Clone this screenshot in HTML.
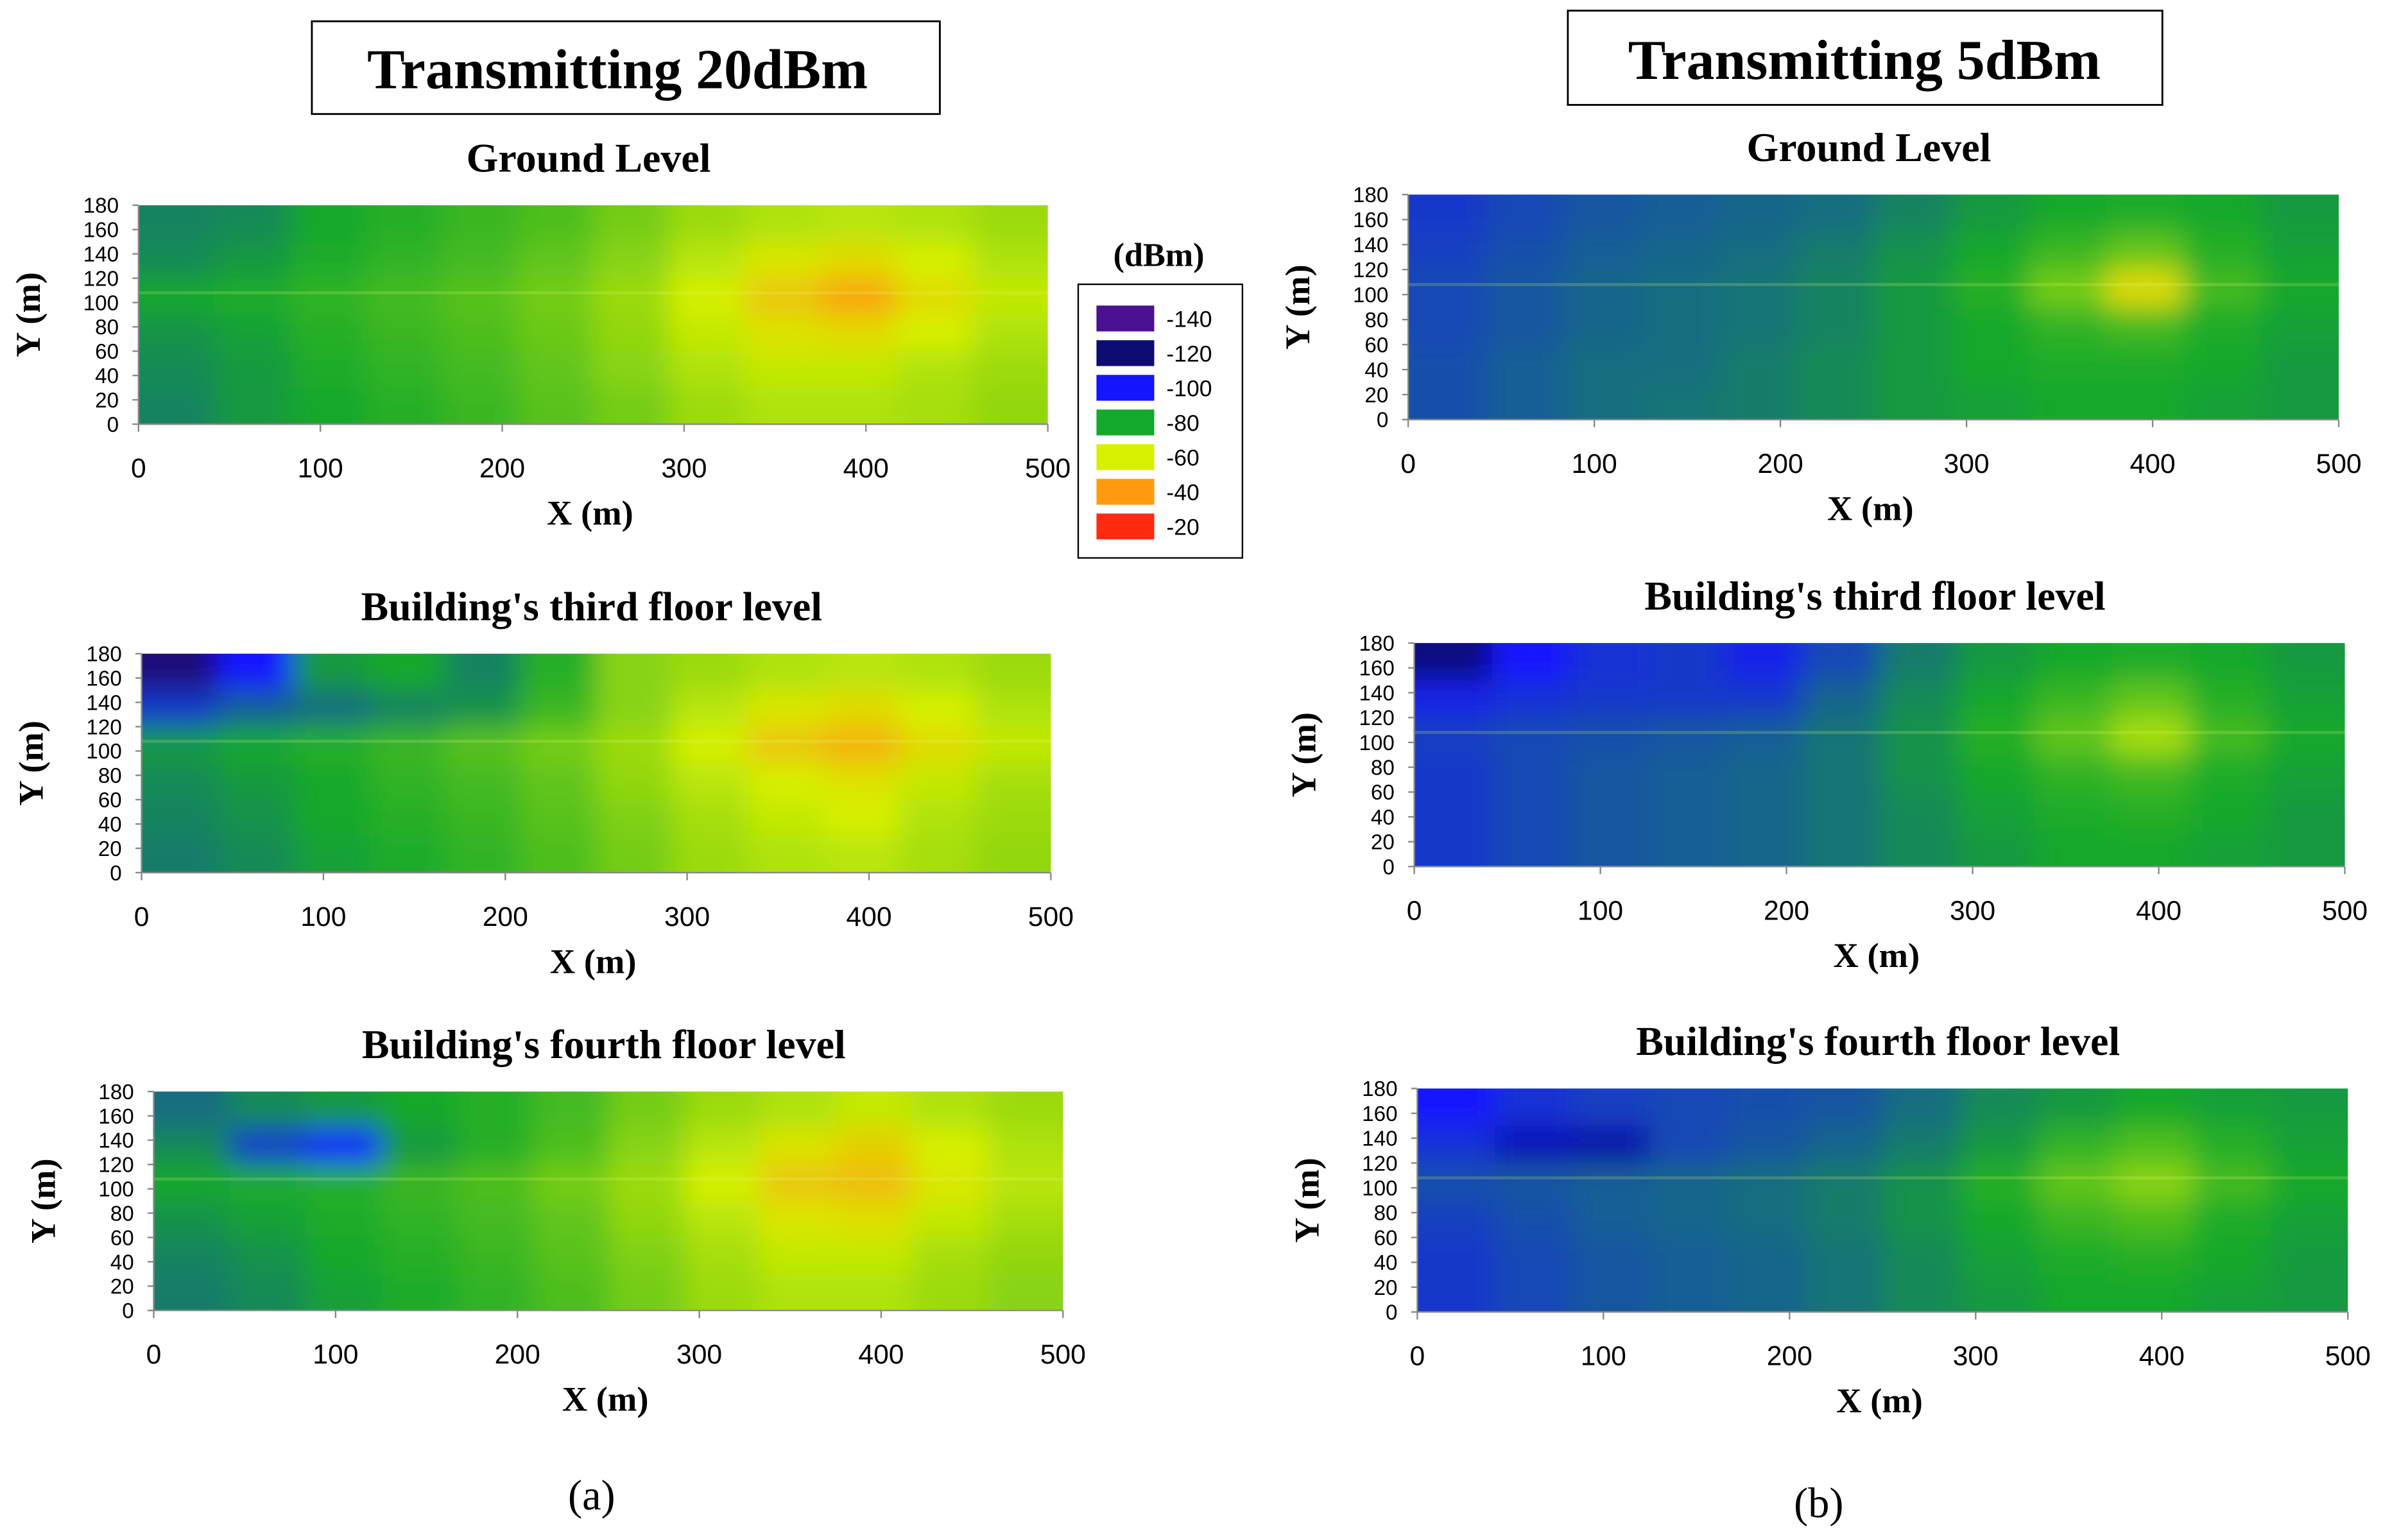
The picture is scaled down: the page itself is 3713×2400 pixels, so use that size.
<!DOCTYPE html>
<html><head><meta charset="utf-8">
<style>
html,body{margin:0;padding:0;background:#fff;}
svg{display:block;}
.serif{font-family:"Liberation Serif",serif;font-weight:bold;}
.sans{font-family:"Liberation Sans",sans-serif;}
</style></head>
<body>
<svg id="fig" width="3713" height="2400" viewBox="0 0 1567 1013" xmlns="http://www.w3.org/2000/svg">
<defs><filter id="blur" x="-5%" y="-10%" width="110%" height="120%"><feGaussianBlur stdDeviation="9"/></filter></defs>
<rect x="0" y="0" width="1567" height="1013" fill="#fff"/>
<rect x="205" y="14" width="413" height="61" fill="#fff" stroke="#000" stroke-width="1.2"/>
<text class="serif" x="406" y="58" font-size="37" text-anchor="middle">Transmitting 20dBm</text>
<rect x="1031" y="7" width="391" height="62" fill="#fff" stroke="#000" stroke-width="1.2"/>
<text class="serif" x="1226" y="52" font-size="37" text-anchor="middle">Transmitting 5dBm</text>
<text x="389" y="993" font-size="28" text-anchor="middle" font-family="Liberation Serif, serif">(a)</text>
<text x="1196" y="998" font-size="28" text-anchor="middle" font-family="Liberation Serif, serif">(b)</text>
<g id="legend"></g>
<g id="panels"></g>
</svg>
<script>
const NS="http://www.w3.org/2000/svg";
const xTicks=[0,100,200,300,400,500];
const yTicks=[0,20,40,60,80,100,120,140,160,180];
const legendValues=[-140,-120,-100,-80,-60,-40,-20];
const colorStops=["#4a1190","#0c0c72","#1414ff","#14a82c","#d6f000","#ff9a10","#ff2a10"];

const ground20=[
[-85,-84,-80,-78,-76,-74,-70,-66,-64,-63,-64,-66],
[-84,-82,-79,-77,-75,-72,-68,-63,-58,-55,-60,-64],
[-80,-79,-77,-75,-73,-70,-66,-60,-50,-42,-55,-62],
[-83,-81,-78,-76,-74,-71,-67,-62,-57,-55,-60,-64],
[-84,-82,-79,-77,-75,-72,-68,-64,-62,-62,-64,-66],
[-85,-82,-80,-78,-76,-73,-70,-66,-64,-64,-65,-67]];
const third20=[
[-125,-100,-82,-80,-85,-78,-68,-66,-64,-63,-64,-66],
[-95,-90,-88,-85,-83,-76,-68,-63,-58,-55,-60,-64],
[-82,-80,-78,-76,-73,-70,-66,-60,-50,-45,-55,-62],
[-84,-82,-80,-77,-75,-72,-67,-63,-60,-57,-62,-65],
[-85,-83,-80,-78,-76,-73,-69,-65,-62,-60,-64,-66],
[-86,-84,-81,-79,-77,-74,-70,-66,-64,-63,-65,-67]];
const fourth20=[
[-88,-84,-82,-80,-78,-75,-70,-66,-64,-62,-64,-66],
[-84,-95,-100,-82,-78,-74,-68,-63,-57,-52,-60,-64],
[-80,-79,-78,-76,-74,-70,-66,-60,-50,-48,-58,-63],
[-83,-81,-79,-77,-75,-72,-67,-63,-58,-56,-62,-65],
[-85,-83,-80,-78,-76,-73,-69,-65,-62,-62,-65,-67],
[-86,-84,-81,-79,-77,-74,-70,-66,-64,-64,-66,-68]];
const ground5=[
[-95,-93,-91,-90,-89,-88,-85,-82,-80,-79,-80,-82],
[-94,-92,-90,-89,-88,-86,-83,-80,-76,-72,-78,-81],
[-93,-91,-89,-88,-87,-85,-82,-78,-70,-55,-75,-80],
[-93,-91,-89,-88,-87,-85,-82,-80,-77,-75,-79,-81],
[-92,-90,-88,-88,-86,-84,-82,-80,-79,-79,-80,-82],
[-92,-90,-88,-87,-86,-84,-82,-81,-80,-80,-81,-82]];
const third5=[
[-118,-100,-96,-95,-98,-93,-86,-82,-80,-79,-80,-82],
[-98,-96,-95,-95,-95,-89,-84,-80,-76,-72,-78,-81],
[-94,-93,-92,-91,-90,-87,-83,-78,-72,-65,-75,-80],
[-95,-93,-91,-90,-89,-87,-83,-80,-77,-75,-79,-81],
[-95,-93,-91,-90,-89,-87,-84,-81,-79,-78,-80,-82],
[-95,-93,-91,-90,-89,-87,-84,-82,-80,-80,-81,-82]];
const fourth5=[
[-100,-96,-94,-93,-92,-91,-88,-84,-82,-80,-81,-82],
[-96,-110,-112,-93,-91,-89,-86,-82,-77,-74,-78,-81],
[-92,-91,-90,-89,-88,-86,-83,-78,-72,-68,-75,-80],
[-94,-92,-90,-89,-88,-86,-83,-80,-76,-74,-79,-81],
[-95,-93,-91,-90,-89,-87,-84,-81,-79,-78,-80,-82],
[-95,-93,-91,-90,-89,-87,-84,-82,-80,-80,-81,-82]];

function hex(h){return [1,3,5].map(i=>parseInt(h.substr(i,2),16));}
function colorFor(v){
  let t=(v-legendValues[0])/(legendValues[6]-legendValues[0])*6;
  t=Math.max(0,Math.min(6,t));
  const i=Math.min(5,Math.floor(t)),f=t-i;
  const a=hex(colorStops[i]),b=hex(colorStops[i+1]);
  return "rgb("+a.map((c,k)=>Math.round(c+(b[k]-c)*f)).join(",")+")";
}
function el(tag,attrs,parent){const e=document.createElementNS(NS,tag);for(const k in attrs)e.setAttribute(k,attrs[k]);parent.appendChild(e);return e;}

const panelDefs=[
 {id:"ground-20",data:ground20,x0:91,x1:689,y0:135,y1:279,title:"Ground Level"},
 {id:"third-20",data:third20,x0:93,x1:691,y0:430,y1:574,title:"Building's third floor level"},
 {id:"fourth-20",data:fourth20,x0:101,x1:699,y0:718,y1:862,title:"Building's fourth floor level"},
 {id:"ground-5",data:ground5,x0:926,x1:1538,y0:128,y1:276,title:"Ground Level"},
 {id:"third-5",data:third5,x0:930,x1:1542,y0:423,y1:570,title:"Building's third floor level"},
 {id:"fourth-5",data:fourth5,x0:932,x1:1544,y0:716,y1:863,title:"Building's fourth floor level"}];

const root=document.getElementById("panels");
panelDefs.forEach(p=>{
  const g=el("g",{},root);
  
  
  const xs=v=>p.x0+(v/500)*(p.x1-p.x0);
  const ys=v=>p.y1-(v/180)*(p.y1-p.y0);
  const cx=(p.x0+p.x1)/2;
  const t=el("text",{x:cx-3,y:p.y0-22,"font-size":27,"text-anchor":"middle","class":"serif"},g);
  t.textContent=p.title;
  
  
  const cp=el("clipPath",{id:"clip-"+p.id},g);
  el("rect",{x:p.x0,y:p.y0,width:p.x1-p.x0,height:p.y1-p.y0},cp);
  const cg=el("g",{"clip-path":"url(#clip-"+p.id+")"},g);
  const bg=el("g",{filter:"url(#blur)"},cg);
  const rows=p.data.length,cols=p.data[0].length;
  const cw=500/cols,rh=180/rows;
  for(let r=0;r<rows;r++)for(let c=0;c<cols;c++){
    const top=180-r*rh;
    let x=xs(c*cw),y=ys(top),w=xs((c+1)*cw)-x,h=ys(top-rh)-y;
    if(c===0){x-=20;w+=20;} if(c===cols-1)w+=20;
    if(r===0){y-=20;h+=20;} if(r===rows-1)h+=20;
    const rc=el("rect",{x:x,y:y,width:w+0.5,height:h+0.5,fill:colorFor(p.data[r][c])},bg);
    
    
  }
  el("line",{x1:p.x0,x2:p.x1,y1:ys(108),y2:ys(108),stroke:"rgba(230,255,120,0.2)","stroke-width":2},cg);
  el("line",{x1:p.x0,x2:p.x0,y1:p.y0,y2:p.y1,stroke:"#888","stroke-width":1},g);
  el("line",{x1:p.x0,x2:p.x1,y1:p.y1,y2:p.y1,stroke:"#888","stroke-width":1},g);
  yTicks.forEach(v=>{
    el("line",{x1:p.x0-4,x2:p.x0,y1:ys(v),y2:ys(v),stroke:"#888"},g);
    const tt=el("text",{x:p.x0-13,y:ys(v)+5,"font-size":14,"text-anchor":"end","class":"sans"},g);
    tt.textContent=v;
    
    
  });
  xTicks.forEach(v=>{
    el("line",{x1:xs(v),x2:xs(v),y1:p.y1,y2:p.y1+5,stroke:"#888"},g);
    const tt=el("text",{x:xs(v),y:p.y1+35,"font-size":18,"text-anchor":"middle","class":"sans"},g);
    tt.textContent=v;
    
    
  });
  const xl=el("text",{x:cx-2,y:p.y1+66,"font-size":23,"text-anchor":"middle","class":"serif"},g);
  xl.textContent="X (m)";
  
  
  const ym=(p.y0+p.y1)/2, yx=p.x0-65;
  const yl=el("text",{x:yx,y:ym,"font-size":23,"text-anchor":"middle","class":"serif",transform:"rotate(-90 "+yx+" "+ym+")"},g);
  yl.textContent="Y (m)";
  
  
});

const lg=document.getElementById("legend");
const lt=el("text",{x:762,y:175,"font-size":22,"text-anchor":"middle","class":"serif"},lg);
lt.textContent="(dBm)";


el("rect",{x:709,y:187,width:108,height:180,fill:"#fff",stroke:"#000","stroke-width":1},lg);
legendValues.forEach((v,i)=>{
  const y=201+i*22.8;
  const sw=el("rect",{x:721,y:y,width:38,height:17,fill:colorStops[i]},lg);
  
  
  const tx=el("text",{x:767,y:y+14,"font-size":15,"class":"sans"},lg);
  tx.textContent=v;
  
  
});
</script>
</body></html>
